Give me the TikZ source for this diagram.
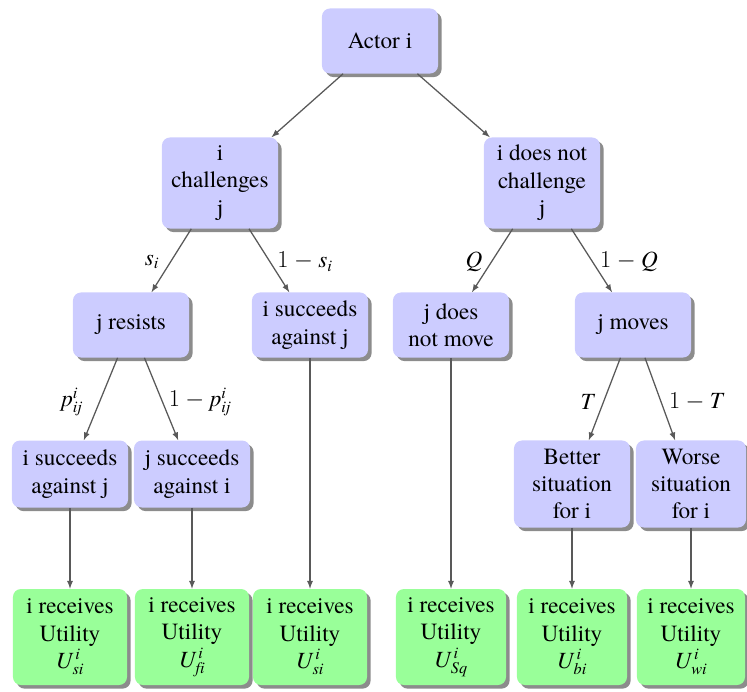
\documentclass[tikz,border=0pt]{standalone}
\usepackage{fontspec}
\setmainfont{texgyretermes}[Extension=.otf, UprightFont=*-regular, ItalicFont=*-italic, BoldFont=*-bold, BoldItalicFont=*-bolditalic]
\usetikzlibrary{arrows,shadows}
\tikzset{>=latex}
\definecolor{boxblue}{RGB}{204,204,255}
\definecolor{boxgreen}{RGB}{153,255,153}
\tikzset{
  choice/.style={fill=boxblue, rounded corners=0.2cm, align=center, inner sep=2pt,
    minimum width=2.9cm, minimum height=1.625cm,
    drop shadow={shadow xshift=0.09cm, shadow yshift=-0.09cm, fill=black!45, opacity=1}},
  payoff/.style={choice, fill=boxgreen, minimum height=2.4cm},
  branch/.style={->, draw=black!65, line width=0.9pt},
}
\newcommand{\util}[1]{$\mathit{U}^{\,\mathit{i}}_{\mathit{#1}}$}

\begin{document}
\begin{tikzpicture}[x=0.025cm, y=-0.025cm, font=\rmfamily\fontsize{16.5}{19.5}\selectfont]
	\useasboundingbox (0,0) rectangle (747,691);

	% Decisions
	\node[choice] (actor) at (380,41) {Actor i};
	\node[choice, minimum height=2.275cm] (chal) at (220,183) {i\\challenges\\j};
	\node[choice, minimum height=2.275cm] (nochal) at (542,183) {i does not\\challenge\\j};
	\node[choice] (resists) at (131,325) {j resists};
	\node[choice] (isucc) at (310,325) {i succeeds\\against j};
	\node[choice] (nomove) at (451,325) {j does\\not move};
	\node[choice] (moves) at (633,325) {j moves};
	\node[choice, minimum height=1.675cm] (iwins) at (70,474) {i succeeds\\against j};
	\node[choice, minimum height=1.675cm] (jwins) at (192,474) {j succeeds\\against i};
	\node[choice, minimum height=2.175cm] (better) at (572,484) {Better\\situation\\for i};
	\node[choice, minimum height=2.175cm, minimum width=2.75cm] (worse) at (691,484) {Worse\\situation\\for i};

	% Utilities
	\node[payoff, minimum width=2.85cm] (u1) at (70,637) {i receives\\Utility\\\util{si}};
	\node[payoff, minimum width=2.85cm] (u2) at (192,637) {i receives\\Utility\\\util{fi}};
	\node[payoff, minimum width=2.85cm] (u3) at (310,637) {i receives\\Utility\\\util{si}};
	\node[payoff, minimum width=2.75cm] (u4) at (451,637) {i receives\\Utility\\\util{Sq}};
	\node[payoff, minimum width=2.75cm] (u5) at (572,637) {i receives\\Utility\\\util{bi}};
	\node[payoff, minimum width=2.7cm] (u6) at (691,637) {i receives\\Utility\\\util{wi}};

	% Branches
	\draw[branch] (actor) -- (chal);
	\draw[branch] (actor) -- (nochal);
	\draw[branch] (chal) -- (resists);
	\draw[branch] (chal) -- (isucc);
	\draw[branch] (nochal) -- (nomove);
	\draw[branch] (nochal) -- (moves);
	\draw[branch] (resists) -- (iwins);
	\draw[branch] (resists) -- (jwins);
	\draw[branch] (moves) -- (better);
	\draw[branch] (moves) -- (worse);
	\draw[branch] (iwins) -- (u1);
	\draw[branch] (jwins) -- (u2);
	\draw[branch] (isucc) -- (u3);
	\draw[branch] (nomove) -- (u4);
	\draw[branch] (better) -- (u5);
	\draw[branch] (worse) -- (u6);

	% Probabilities
	\node (ps) at (152,262) {$\mathit{s}_{\mathit{i}}$};
	\node (pns) at (305,262) {$1-\mathit{s}_{\mathit{i}}$};
	\node (pq) at (474,262) {$\mathit{Q}$};
	\node (pnq) at (629,262) {$1-\mathit{Q}$};
	\node (pp) at (72,402) {$\mathit{p}^{\mathit{i}}_{\mathit{ij}}$};
	\node (pnp) at (200,402) {$1-\mathit{p}^{\mathit{i}}_{\mathit{ij}}$};
	\node (pt) at (587,402) {$\mathit{T}$};
	\node (pnt) at (696,402) {$1-\mathit{T}$};
\end{tikzpicture}
\end{document}
